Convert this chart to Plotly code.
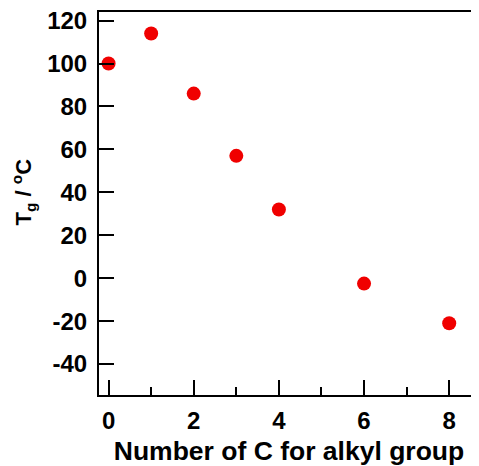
import plotly.graph_objects as go

carbon_number = [0, 1, 2, 3, 4, 6, 8]
tg_celsius = [100, 114, 86, 57, 32, -2.5, -21]

x_ticks = [0, 2, 4, 6, 8]
y_ticks = [-40, -20, 0, 20, 40, 60, 80, 100, 120]

font_family = "Liberation Sans, Arial, sans-serif"

fig = go.Figure()
fig.add_trace(go.Scatter(
    x=carbon_number, y=tg_celsius, mode="markers",
    marker=dict(color="#F00000", size=14, line=dict(width=0)),
    showlegend=False,
))

# page body has an 8px margin, so the figure is offset by (8, 8)
fig.update_layout(
    width=471, height=458,
    margin=dict(l=91, r=0, t=4, b=71, autoexpand=False),
    paper_bgcolor="white", plot_bgcolor="white",
    font=dict(family=font_family, color="black"),
)

fig.update_xaxes(
    range=[-0.225, 8.70],
    tickvals=x_ticks, ticktext=[str(v) for v in x_ticks],
    ticks="inside", ticklen=15, tickwidth=2, tickcolor="black",
    minor=dict(ticks="inside", ticklen=8, tickwidth=2, tickcolor="black", dtick=1, tick0=0),
    showline=True, linecolor="black", linewidth=2, mirror=True,
    showgrid=False, zeroline=False,
    ticklabelstandoff=3, ticklabeloverflow="allow",
    tickfont=dict(size=24, family=font_family, color="black", weight="bold"),
    title=dict(text="Number of C for alkyl group",
               font=dict(size=26.5, family=font_family, color="black", weight="bold"),
               standoff=9),
)

fig.update_yaxes(
    range=[-54.4, 124],
    tickvals=y_ticks, ticktext=[str(v) for v in y_ticks],
    ticks="inside", ticklen=15, tickwidth=2, tickcolor="black",
    showline=True, linecolor="black", linewidth=2, mirror=False,
    showgrid=False, zeroline=False,
    ticklabelstandoff=5, ticklabeloverflow="allow",
    tickfont=dict(size=24, family=font_family, color="black", weight="bold"),
)

# y-axis title placed as a rotated annotation to match the reference position
fig.add_annotation(
    text="T<sub>g</sub> / <sup>o</sup>C",
    xref="paper", yref="paper",
    x=-0.198, y=0.531, xanchor="center", yanchor="middle",
    textangle=-90, showarrow=False, borderpad=0,
    font=dict(size=22, family=font_family, color="black", weight="bold"),
)

fig.write_html("out.html")
